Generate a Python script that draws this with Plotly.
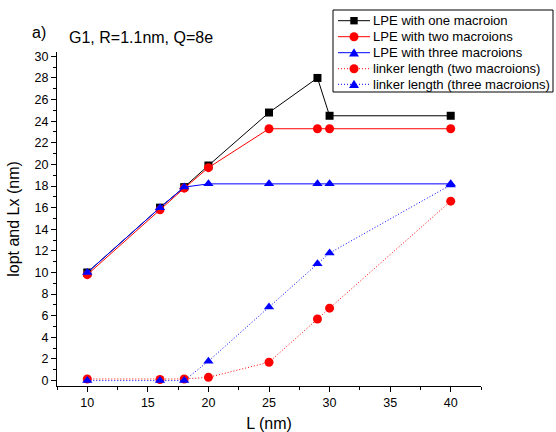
import plotly.graph_objects as go

# Chain length L (nm)
L = [10, 16, 18, 20, 25, 29, 30, 40]

# Optimal LPE length with one, two and three macroions (nm)
lpe_one = [10.0, 16.0, 17.9, 19.9, 24.8, 28.0, 24.5, 24.5]
lpe_two = [9.8, 15.8, 17.8, 19.7, 23.3, 23.3, 23.3, 23.3]
lpe_three = [10.0, 16.0, 17.9, 18.2, 18.2, 18.2, 18.2, 18.2]

# Linker length between macroions (nm)
linker_two = [0.15, 0.1, 0.15, 0.3, 1.7, 5.7, 6.7, 16.6]
linker_three = [0.0, 0.0, 0.0, 1.8, 6.8, 10.8, 11.8, 18.1]

series_names = [
    "LPE with one macroion",
    "LPE with two macroions",
    "LPE with three macroions",
    "linker length (two macroions)",
    "linker length (three macroions)",
]
series_values = [lpe_one, lpe_two, lpe_three, linker_two, linker_three]
series_colors = ["black", "red", "blue", "red", "blue"]
series_symbols = ["square", "circle", "triangle-up", "circle", "triangle-up"]
series_sizes = [8, 9, 9, 9, 9]
DOTTED = "1px,2px"
series_dash = ["solid", "solid", "solid", DOTTED, DOTTED]

FONT = "Arial, Liberation Sans, sans-serif"
W, H = 556, 432
ML, MR, MT, MB = 57, 75, 52, 46
PW, PH = W - ML - MR, H - MT - MB


def px_x(px):
    """Pixel column -> paper x."""
    return (px - ML) / PW


def px_y(py):
    """Pixel row (from top) -> paper y."""
    return (H - MB - py) / PH


fig = go.Figure()

for name, vals, col, sym, size, dash in zip(
    series_names, series_values, series_colors, series_symbols, series_sizes, series_dash
):
    fig.add_trace(go.Scatter(
        x=L, y=vals, mode="lines+markers", name=name,
        line=dict(color=col, width=1, dash=dash),
        marker=dict(symbol=sym, size=size, color=col, line=dict(width=0)),
        showlegend=False,
    ))

axis_common = dict(
    showline=True, linecolor="black", linewidth=1,
    ticks="outside", ticklen=5, tickwidth=1, tickcolor="black",
    showgrid=False, zeroline=False,
    tickfont=dict(family=FONT, size=12.5, color="black"),
    title_font=dict(family=FONT, size=16, color="black"),
)

fig.update_xaxes(
    range=[7.5, 42.5], tickmode="linear", tick0=10, dtick=5,
    minor=dict(ticks="outside", ticklen=3, tickcolor="black", dtick=2.5, tick0=7.5),
    title_text="L (nm)", title_standoff=9,
    **axis_common,
)
fig.update_yaxes(
    range=[-0.5, 30.4], tickmode="linear", tick0=0, dtick=2,
    minor=dict(ticks="outside", ticklen=3, tickcolor="black", dtick=1),
    title_text="lopt and Lx (nm)", title_standoff=10,
    **axis_common,
)

fig.add_annotation(
    text="a)", xref="paper", yref="paper", x=px_x(30), y=px_y(33),
    showarrow=False, xanchor="left", yanchor="middle",
    font=dict(family=FONT, size=16, color="black"),
)
fig.add_annotation(
    text="G1, R=1.1nm, Q=8e", xref="paper", yref="paper", x=px_x(67), y=px_y(37.5),
    showarrow=False, xanchor="left", yanchor="middle",
    font=dict(family=FONT, size=16, color="black"),
)

# Boxed legend in the upper right corner
shapes = [dict(
    type="rect", xref="paper", yref="paper",
    x0=px_x(333), x1=px_x(553), y0=px_y(92), y1=px_y(10),
    line=dict(color="black", width=1), fillcolor="white", layer="above",
)]
row_y = [20.7, 36.7, 52.7, 68.7, 84.3]
line_x0, line_x1, mark_x, text_x = 338, 370, 354, 371
for name, col, sym, dash, ry in zip(series_names, series_colors, series_symbols, series_dash, row_y):
    yc = px_y(ry)
    shapes.append(dict(
        type="line", xref="paper", yref="paper",
        x0=px_x(line_x0), x1=px_x(line_x1), y0=yc, y1=yc,
        line=dict(color=col, width=1, dash=dash), layer="above",
    ))
    if sym == "square":
        r = 3.7
        shapes.append(dict(
            type="rect", xref="paper", yref="paper",
            x0=px_x(mark_x - r), x1=px_x(mark_x + r), y0=px_y(ry + r), y1=px_y(ry - r),
            line=dict(width=0), fillcolor=col, layer="above",
        ))
    elif sym == "circle":
        r = 4.5
        shapes.append(dict(
            type="circle", xref="paper", yref="paper",
            x0=px_x(mark_x - r), x1=px_x(mark_x + r), y0=px_y(ry + r), y1=px_y(ry - r),
            line=dict(width=0), fillcolor=col, layer="above",
        ))
    else:
        hw, top, bot = 5.0, ry - 4.5, ry + 3.8
        path = "M {:.5f},{:.5f} L {:.5f},{:.5f} L {:.5f},{:.5f} Z".format(
            px_x(mark_x - hw), px_y(bot), px_x(mark_x + hw), px_y(bot), px_x(mark_x), px_y(top)
        )
        shapes.append(dict(
            type="path", xref="paper", yref="paper", path=path,
            line=dict(width=0), fillcolor=col, layer="above",
        ))
    fig.add_annotation(
        text=name, xref="paper", yref="paper", x=px_x(text_x), y=yc,
        showarrow=False, xanchor="left", yanchor="middle",
        font=dict(family=FONT, size=13.1, color="black"),
    )

fig.update_layout(
    width=W, height=H,
    margin=dict(l=ML, r=MR, t=MT, b=MB, autoexpand=False),
    plot_bgcolor="white", paper_bgcolor="white",
    showlegend=False,
    shapes=shapes,
)

fig.write_html("out.html")
